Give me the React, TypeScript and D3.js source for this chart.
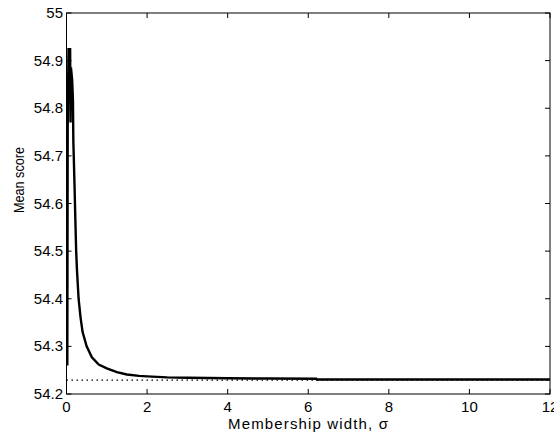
import React from "react";
import * as d3 from "d3";

const sigma = [0.02, 0.03, 0.05, 0.09, 0.1, 0.11, 0.14, 0.16, 0.17, 0.18, 0.2, 0.22, 0.24, 0.26, 0.3, 0.35, 0.4, 0.5, 0.63, 0.8, 1.0, 1.25, 1.5, 1.8, 2.0, 2.5, 3.0, 4.0, 5.0, 6.2, 6.21, 12];
const score = [54.26, 54.76, 54.924, 54.924, 54.77, 54.886, 54.86, 54.817, 54.73, 54.7, 54.635, 54.565, 54.5, 54.46, 54.4, 54.36, 54.33, 54.3, 54.277, 54.262, 54.254, 54.246, 54.241, 54.238, 54.237, 54.235, 54.234, 54.233, 54.2325, 54.232, 54.2305, 54.2305];
const baselineX = [0, 12];
const baselineY = [54.229, 54.229];
const xTicks = [0, 2, 4, 6, 8, 10, 12];
const yTicks = [54.2, 54.3, 54.4, 54.5, 54.6, 54.7, 54.8, 54.9, 55];

const W = 554, H = 439;
const L = 66.5, R = 550, T = 13, B = 394;

export default function App() {
  const x = d3.scaleLinear().domain([0, 12]).range([L, R]);
  const y = d3.scaleLinear().domain([54.2, 55]).range([B, T]);
  const pts = sigma.map((s, i) => [s, score[i]] as [number, number]);
  const line = d3.line<[number, number]>().x(d => x(d[0])).y(d => y(d[1]));
  const base = baselineX.map((s, i) => [s, baselineY[i]] as [number, number]);
  const font = "Arial, 'Liberation Sans', Helvetica, sans-serif";
  return (
    <div style={{ position: "absolute", left: 0, top: 0 }}>
      <svg width={W} height={H} style={{ display: "block", background: "#fff" }}>
        <rect x={0} y={0} width={W} height={H} fill="#fff" />
        <defs>
          <clipPath id="plot">
            <rect x={L} y={T} width={R - L} height={B - T} />
          </clipPath>
        </defs>
        <g clipPath="url(#plot)">
          <path d={line(base) || ""} fill="none" stroke="#000" strokeWidth={1.3} strokeDasharray="1.5,3.5" />
          <path d={line(pts) || ""} fill="none" stroke="#000" strokeWidth={2.4} strokeLinejoin="miter" />
        </g>
        <rect x={L} y={T} width={R - L} height={B - T} fill="none" stroke="#000" strokeWidth={1} />
        {xTicks.map(t => (
          <g key={"x" + t}>
            <line x1={x(t)} x2={x(t)} y1={B} y2={B - 5} stroke="#000" />
            <line x1={x(t)} x2={x(t)} y1={T} y2={T + 5} stroke="#000" />
            <text x={x(t)} y={412} fontSize={15} fontFamily={font} textAnchor="middle" fill="#000">{t}</text>
          </g>
        ))}
        {yTicks.map(t => (
          <g key={"y" + t}>
            <line x1={L} x2={L + 5} y1={y(t)} y2={y(t)} stroke="#000" />
            <line x1={R} x2={R - 5} y1={y(t)} y2={y(t)} stroke="#000" />
            <text x={63} y={y(t) + 5} fontSize={15} fontFamily={font} textAnchor="end" fill="#000">{d3.format("")(+t.toFixed(1))}</text>
          </g>
        ))}
        <text x={308} y={429} fontSize={15} fontFamily={font} textAnchor="middle" textLength={160} lengthAdjust="spacing" fill="#000">Membership width, σ</text>
        <text transform={`translate(24,180) rotate(-90)`} fontSize={15} fontFamily={font} textAnchor="middle" textLength={66} lengthAdjust="spacingAndGlyphs" fill="#000">Mean score</text>
      </svg>
    </div>
  );
}
